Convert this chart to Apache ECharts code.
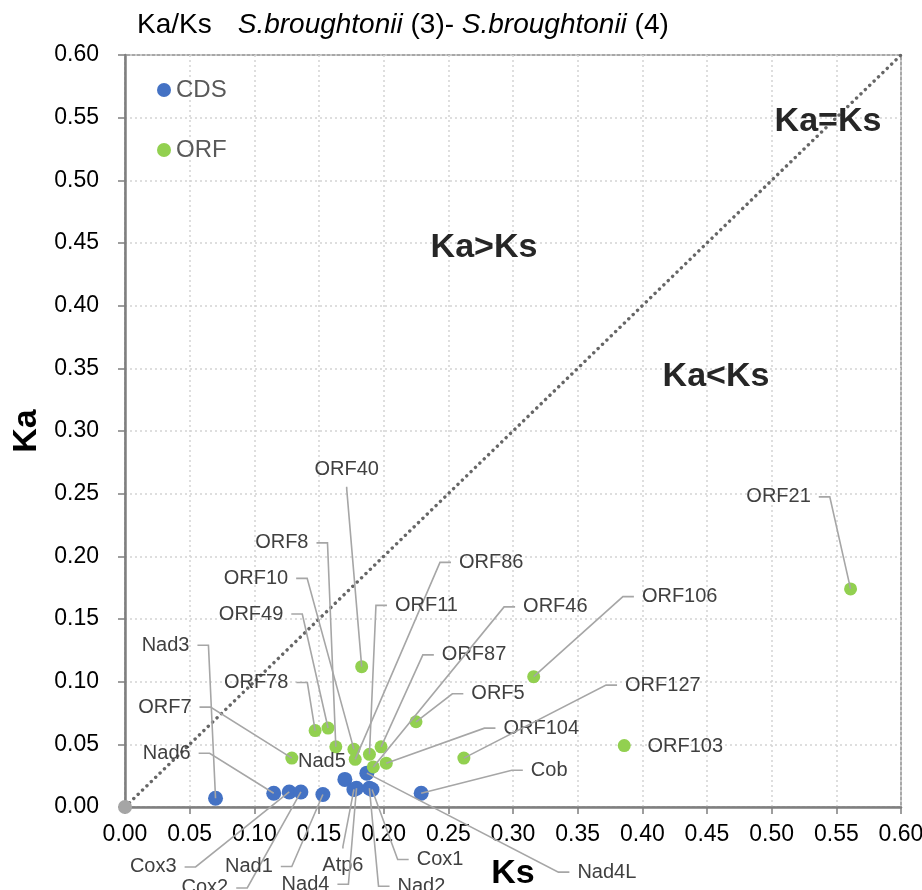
<!DOCTYPE html>
<html><head><meta charset="utf-8">
<script src="https://cdn.jsdelivr.net/npm/echarts@6/dist/echarts.min.js"></script>
<style>html,body{margin:0;padding:0;background:#fff}#c{width:922px;height:890px}</style>
</head><body><div id="c"></div>
<script>
// ---- data ----
const cdsNames = ['Nad3','Nad6','Cox3','Cox2','Nad1','Nad5','Atp6','Nad4','Nad2','Cox1','Nad4L','Cob'];
const cdsKs    = [0.070,0.115,0.127,0.136,0.153,0.170,0.177,0.179,0.189,0.191,0.187,0.229];
const cdsKa    = [0.007,0.011,0.012,0.012,0.010,0.022,0.014,0.015,0.015,0.014,0.027,0.011];
const orfNames = ['ORF40','ORF8','ORF10','ORF86','ORF49','ORF78','ORF7','ORF11','ORF87','ORF46','ORF104','ORF5','ORF127','ORF106','ORF103','ORF21'];
const orfKs    = [0.183,0.163,0.177,0.178,0.157,0.147,0.129,0.189,0.198,0.192,0.202,0.225,0.262,0.316,0.386,0.561];
const orfKa    = [0.112,0.048,0.046,0.038,0.063,0.061,0.039,0.042,0.048,0.032,0.035,0.068,0.039,0.104,0.049,0.174];
const diagKs   = [0, 0.6];
const diagKa   = [0, 0.6];

// ---- label placement (pixel offsets of label centre from its point, leader side) ----
const cdsLabelLayout = [[-50,-153,'R'],[-107,-40,'R'],[-136,75,'R'],[-96,96,'R'],[-74,72,'R'],[-23,-18,''],
  [-11,76,'T'],[-51,96,'R'],[52,98,'L'],[68,70,'L'],[240,99,'L'],[128,-23,'L']];
const orfLabelLayout = [[-15,-197,'B'],[-54,-204,'R'],[-98,-171,'R'],[136,-197,'L'],[-77,-114,'R'],[-59,-48,'R'],
  [-127,-51,'R'],[57,-149,'L'],[93,-92,'L'],[182,-160,'L'],[155,-35,'L'],[82,-28,'L'],[199,-73,'L'],
  [146,-80,'L'],[61,1,''],[-72,-92,'R']];

const FONT = '"Liberation Sans", Arial, sans-serif';
const LABEL_FONT = '20px "Liberation Sans", Arial, sans-serif';
const mctx = document.createElement('canvas').getContext('2d');
function measure(t){ mctx.font = LABEL_FONT; return mctx.measureText(t).width; }

function labelSeries(names, ks, ka, layout){
  return {
    type:'custom', z:6, silent:true, clip:false,
    data: names.map((n,i)=>[ks[i], ka[i], i]),
    encode:{x:0, y:1},
    renderItem:function(params, api){
      const i = api.value(2);
      const p = api.coord([api.value(0), api.value(1)]);
      const L = layout[i];
      const cx = p[0]+L[0], cy = p[1]+L[1];
      const w = measure(names[i]);
      const children = [{type:'text', style:{text:names[i], x:cx, y:cy, align:'center', verticalAlign:'middle',
        textAlign:'center', textVerticalAlign:'middle', font:LABEL_FONT, fill:'#404040'}}];
      const gap = 8, seg = 11, hh = 9;
      let a = null, b = null;
      if (L[2]==='R'){ a=[cx+w/2+gap, cy]; b=[a[0]+seg, cy]; }
      else if (L[2]==='L'){ a=[cx-w/2-gap, cy]; b=[a[0]-seg, cy]; }
      else if (L[2]==='T'){ a=[cx, cy-hh-gap]; b=[cx, a[1]-2]; }
      else if (L[2]==='B'){ a=[cx, cy+hh+gap]; b=[cx, a[1]+2]; }
      if (a) children.unshift({type:'polyline', shape:{points:[a,b,p]}, style:{stroke:'#a6a6a6', lineWidth:1.6, fill:null}});
      return {type:'group', children:children};
    }
  };
}

const chart = echarts.init(document.getElementById('c'), null, {renderer:'canvas'});
const axisCommon = {
  type:'value', min:0, max:0.6, interval:0.05,
  axisLine:{show:true, onZero:false, lineStyle:{color:'#7f7f7f', width:2.5}},
  axisTick:{show:true, length:7, lineStyle:{color:'#7f7f7f', width:1.5}},
  splitLine:{show:true, lineStyle:{color:'#d4d4d4', width:1.5, type:[2,3]}},
  nameTextStyle:{fontSize:34, fontWeight:'bold', color:'#000', fontFamily:FONT}
};
chart.setOption({
  animation:false,
  backgroundColor:'#fff',
  title:{
    text:'{a|Ka/Ks}{i|S.broughtonii}{n| (3)- }{i|S.broughtonii}{n| (4)}',
    left:132, top:6,
    textStyle:{fontWeight:'normal', fontSize:28, color:'#000', fontFamily:FONT, rich:{
      a:{fontSize:28, fontWeight:'normal', color:'#000', fontFamily:FONT, padding:[0,26,0,0]},
      i:{fontSize:28, fontWeight:'normal', color:'#000', fontFamily:FONT, fontStyle:'italic'},
      n:{fontSize:28, fontWeight:'normal', color:'#000', fontFamily:FONT}
    }}
  },
  legend:{
    data:['CDS','ORF'], orient:'vertical', left:152, top:73,
    itemWidth:14, itemHeight:14, itemGap:36, icon:'circle', selectedMode:false,
    textStyle:{fontSize:24, color:'#595959', fontFamily:FONT, lineHeight:24}
  },
  grid:{left:125, right:21, top:55, bottom:83, show:true, borderColor:'#8c8c8c', borderWidth:1.5,
        containLabel:false, outerBoundsMode:'none'},
  xAxis:Object.assign({}, axisCommon, {
    name:'Ks', nameLocation:'middle', nameGap:50,
    axisLabel:{formatter:v=>v.toFixed(2), fontSize:23, color:'#000', margin:16, fontFamily:FONT}
  }),
  yAxis:Object.assign({}, axisCommon, {
    name:'Ka', nameLocation:'middle', nameGap:78, nameRotate:90,
    axisLabel:{formatter:v=>v.toFixed(2), fontSize:23, color:'#000', margin:26, fontFamily:FONT}
  }),
  graphic:[
    {type:'text', x:828, y:122, z:10, style:{text:'Ka=Ks', font:'bold 34px '+FONT, fill:'#262626', align:'center', verticalAlign:'middle', textAlign:'center', textVerticalAlign:'middle'}},
    {type:'text', x:484, y:248, z:10, style:{text:'Ka>Ks', font:'bold 34px '+FONT, fill:'#262626', align:'center', verticalAlign:'middle', textAlign:'center', textVerticalAlign:'middle'}},
    {type:'text', x:716, y:377, z:10, style:{text:'Ka<Ks', font:'bold 34px '+FONT, fill:'#262626', align:'center', verticalAlign:'middle', textAlign:'center', textVerticalAlign:'middle'}}
  ],
  series:[
    {type:'line', silent:true, z:2, showAllSymbol:true,
     data:[{value:[diagKs[0], diagKa[0]], symbol:'circle', symbolSize:14, itemStyle:{color:'#a5a5a5'}},
           {value:[diagKs[1], diagKa[1]], symbol:'none'}],
     lineStyle:{color:'#666666', width:3.4, type:[0.1,6], cap:'round'}},
    {name:'CDS', type:'scatter', symbolSize:15, z:3, itemStyle:{color:'#4472C4', opacity:1},
     data:cdsKs.map((x,i)=>[x, cdsKa[i]])},
    {name:'ORF', type:'scatter', symbolSize:13, z:3, itemStyle:{color:'#92D050', opacity:1},
     data:orfKs.map((x,i)=>[x, orfKa[i]])},
    labelSeries(cdsNames, cdsKs, cdsKa, cdsLabelLayout),
    labelSeries(orfNames, orfKs, orfKa, orfLabelLayout)
  ]
});
</script></body></html>
